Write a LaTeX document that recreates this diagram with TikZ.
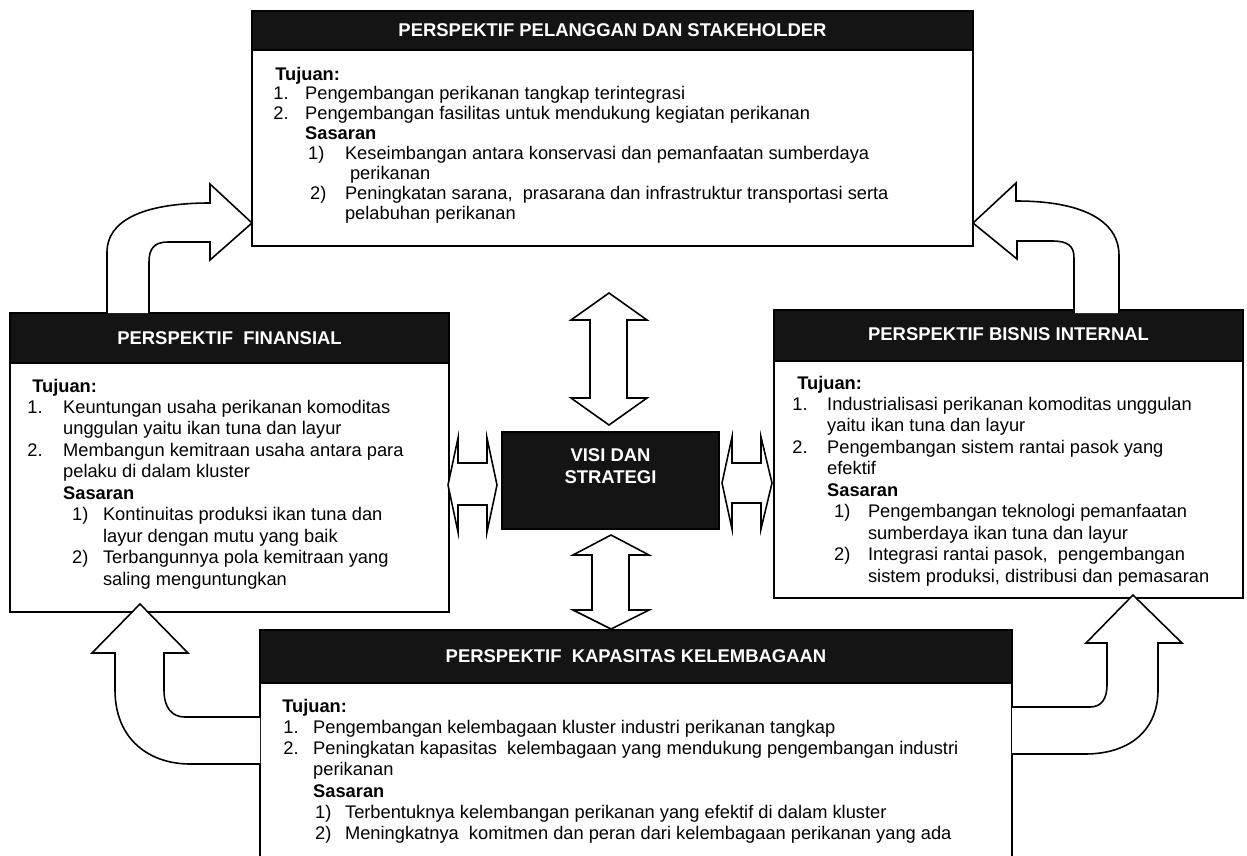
\documentclass[tikz,border=0pt]{standalone}
\usepackage{fontspec}
\setmainfont{Liberation Sans}
\usetikzlibrary{positioning}
\definecolor{headblack}{HTML}{141414}
\newdimen\pix \pix=0.5669pt
\newcommand{\indt}[1]{\hspace*{#1\pix}}
\newcommand{\nlab}[2]{\makebox[#1\pix][l]{#2}}

\begin{document}
\begin{tikzpicture}
[x=0.02cm,y=-0.02cm,
 box/.style={draw=black,fill=white,line width=1pt},
 bar/.style={draw=black,fill=headblack,line width=1pt},
 htxt/.style={text=white,font=\bfseries\fontsize{10.5}{12.5}\selectfont,align=center},
 btxt/.style={anchor=north west,inner sep=0pt,align=left},
 barrow/.style={draw=black,fill=white,line width=0.9pt,line join=miter}]
\useasboundingbox (0,0) rectangle (1247,855);
\clip (0,0) rectangle (1247,855);

% perspektif pelanggan
\draw[box] (252,11) rectangle (973,246);
\draw[bar] (252,11) rectangle (973,50);
\node[htxt] (pelH) at (612.5,30.5) {PERSPEKTIF PELANGGAN DAN STAKEHOLDER};
\node[btxt,font=\fontsize{10.4}{11.3}\selectfont] (pelT) at (273,66.5) {%
\indt{2}\textbf{Tujuan:}\\
\nlab{32}{1.}Pengembangan perikanan tangkap terintegrasi\\
\nlab{32}{2.}Pengembangan fasilitas untuk mendukung kegiatan perikanan\\
\indt{32}\textbf{Sasaran}\\
\indt{35}\nlab{37}{1)}Keseimbangan antara konservasi dan pemanfaatan sumberdaya\\
\indt{77}perikanan\\
\indt{37}\nlab{35}{2)}Peningkatan sarana,\ \ prasarana dan infrastruktur transportasi serta\\
\indt{72}pelabuhan perikanan};

% perspektif finansial
\draw[box] (10,313) rectangle (449,612);
\draw[bar] (10,313) rectangle (449,363);
\node[htxt] (finH) at (229.5,338) {PERSPEKTIF\ \ FINANSIAL};
\node[btxt,font=\fontsize{10.4}{12.2}\selectfont] (finT) at (27,378.5) {%
\indt{5}\textbf{Tujuan:}\\
\nlab{36}{1.}Keuntungan usaha perikanan komoditas\\
\indt{36}unggulan yaitu ikan tuna dan layur\\
\nlab{36}{2.}Membangun kemitraan usaha antara para\\
\indt{36}pelaku di dalam kluster\\
\indt{36}\textbf{Sasaran}\\
\indt{45}\nlab{31}{1)}Kontinuitas produksi ikan tuna dan\\
\indt{76}layur dengan mutu yang baik\\
\indt{45}\nlab{31}{2)}Terbangunnya pola kemitraan yang\\
\indt{76}saling menguntungkan};

% perspektif bisnis internal
\draw[box] (774,310) rectangle (1243,598);
\draw[bar] (774,310) rectangle (1243,361);
\node[htxt] (bisH) at (1008.5,334.5) {PERSPEKTIF BISNIS INTERNAL};
\node[btxt,font=\fontsize{10.4}{12.2}\selectfont] (bisT) at (792,375.5) {%
\indt{5}\textbf{Tujuan:}\\
\nlab{35}{1.}Industrialisasi perikanan komoditas unggulan\\
\indt{35}yaitu ikan tuna dan layur\\
\nlab{35}{2.}Pengembangan sistem rantai pasok yang\\
\indt{35}efektif\\
\indt{35}\textbf{Sasaran}\\
\indt{42}\nlab{34}{1)}Pengembangan teknologi pemanfaatan\\
\indt{76}sumberdaya ikan tuna dan layur\\
\indt{42}\nlab{34}{2)}Integrasi rantai pasok,\ \ pengembangan\\
\indt{76}sistem produksi, distribusi dan pemasaran};

% perspektif kapasitas kelembagaan
\draw[box] (260,630) rectangle (1012,880);
\draw[bar] (260,630) rectangle (1012,683);
\node[htxt] (kapH) at (636,656.5) {PERSPEKTIF\ \ KAPASITAS KELEMBAGAAN};
\node[btxt,font=\fontsize{10.4}{12.1}\selectfont] (kapT) at (282,698.5) {%
\textbf{Tujuan:}\\
\indt{1}\nlab{30}{1.}Pengembangan kelembagaan kluster industri perikanan tangkap\\
\indt{1}\nlab{30}{2.}Peningkatan kapasitas\ \ kelembagaan yang mendukung pengembangan industri\\
\indt{31}perikanan\\
\indt{31}\textbf{Sasaran}\\
\indt{33}\nlab{30}{1)}Terbentuknya kelembangan perikanan yang efektif di dalam kluster\\
\indt{33}\nlab{30}{2)}Meningkatnya\ \ komitmen dan peran dari kelembagaan perikanan yang ada};

% visi dan strategi
\draw[bar] (502,432) rectangle (719,529);
\node[htxt,font=\bfseries\fontsize{10.5}{12.5}\selectfont] (visi) at (610.5,466) {VISI DAN\\STRATEGI};

% double arrows round the centre
\draw[barrow] (609,293) -- (647,320) -- (627,320) -- (627,398) -- (647,398) -- (609,425)
  -- (571,398) -- (590,398) -- (590,320) -- (571,320) -- cycle;
\draw[barrow] (611,535) -- (649,555) -- (629,555) -- (629,610) -- (649,610) -- (611,629)
  -- (573,610) -- (592,610) -- (592,555) -- (573,555) -- cycle;
\draw[barrow] (448,485) -- (458,438) -- (458,463) -- (487,463) -- (487,438) -- (497,485)
  -- (487,532) -- (487,505) -- (458,505) -- (458,532) -- cycle;
\draw[barrow] (722,483) -- (732,437) -- (732,463) -- (761,463) -- (761,437) -- (772,483)
  -- (761,529) -- (761,503) -- (732,503) -- (732,529) -- cycle;

% curved arrows
\draw[barrow] (107,313) -- (107,252) .. controls (107,222) and (140,203) .. (210,203)
  -- (210,184) -- (252,223) -- (210,260) -- (210,242) -- (168,242)
  .. controls (154,242) and (149,249) .. (149,262) -- (149,313);
\draw[barrow] (1119,313) -- (1119,255) .. controls (1119,225) and (1090,201) .. (1016,201)
  -- (1016,183) -- (973,223) -- (1017,259) -- (1017,241) -- (1052,241)
  .. controls (1068,241) and (1074,246) .. (1074,258) -- (1074,313);
\draw[barrow] (260,764) -- (190,764) .. controls (150,764) and (115,740) .. (115,690)
  -- (115,653) -- (92,653) -- (140,604) -- (188,653) -- (164,653) -- (164,690)
  .. controls (164,708) and (172,717) .. (185,717) -- (260,717);
\draw[barrow] (1012,707) -- (1090,707) .. controls (1102,707) and (1107,698) .. (1107,685)
  -- (1107,643) -- (1086,643) -- (1133,595) -- (1182,643) -- (1158,643) -- (1158,690)
  .. controls (1158,730) and (1130,754) .. (1085,754) -- (1012,754);
\end{tikzpicture}
\end{document}
